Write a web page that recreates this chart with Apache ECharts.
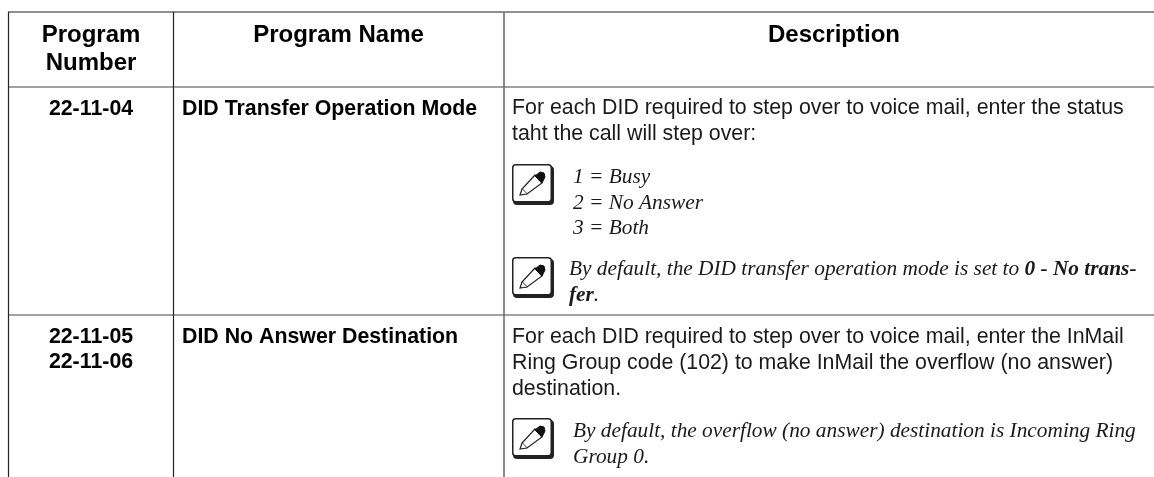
<!DOCTYPE html>
<html>
<head>
<meta charset="utf-8">
<style>html,body{margin:0;padding:0;background:#fff}#main{width:1154px;height:477px}</style>
<script src="https://cdn.jsdelivr.net/npm/echarts@6/dist/echarts.min.js"></script>
</head>
<body>
<div id="main"></div>
<script>
var headers = ['Program\nNumber', 'Program Name', 'Description'];
var programNumbers = ['22-11-04', '22-11-05\n22-11-06'];
var programNames = ['DID Transfer Operation Mode', 'DID No Answer Destination'];
var row1Text = 'For each DID required to step over to voice mail, enter the status\ntaht the call will step over:';
var row1Note1 = '1 = Busy\n2 = No Answer\n3 = Both';
var row1Note2 = 'By default, the DID transfer operation mode is set to {b|0 - No trans-}\n{b|fer}.';
var row2Text = 'For each DID required to step over to voice mail, enter the InMail\nRing Group code (102) to make InMail the overflow (no answer)\ndestination.';
var row2Note = 'By default, the overflow (no answer) destination is Incoming Ring\nGroup 0.';

var sans = '"Liberation Sans", Arial, sans-serif';
var serif = '"Liberation Serif", "Times New Roman", serif';
var ink = '#1a1a1a';

function line(x1, y1, x2, y2, w, color) {
    return {type: 'line', shape: {x1: x1, y1: y1, x2: x2, y2: y2}, style: {stroke: color || '#222', lineWidth: w || 1}, silent: true};
}
function heading(x, y, text) {
    return {type: 'text', x: x, y: y, style: {text: text, fill: '#000', font: 'bold 24px ' + sans, lineHeight: 28, align: 'center', verticalAlign: 'top'}};
}
function bold(x, y, text, align) {
    return {type: 'text', x: x, y: y, style: {text: text, fill: '#000', font: 'bold 21.33px ' + sans, lineHeight: 25, align: align || 'center', verticalAlign: 'top'}};
}
function body(x, y, text) {
    return {type: 'text', x: x, y: y, style: {text: text, fill: ink, font: '21.33px ' + sans, lineHeight: 26, align: 'left', verticalAlign: 'top'}};
}
function note(x, y, text) {
    return {type: 'text', x: x, y: y, style: {
        text: text, fill: ink, font: 'italic 21.33px ' + serif, lineHeight: 25.5, align: 'left', verticalAlign: 'top',
        rich: {b: {font: 'italic bold 21.33px ' + serif, fill: ink, lineHeight: 25.5}}
    }};
}
// pencil icon, top left corner at x,y
function pencil(x, y) {
    return {type: 'group', x: x, y: y, silent: true, children: [
        {type: 'rect', shape: {x: 1, y: 2, width: 41, height: 39, r: 4}, style: {fill: '#222'}},
        {type: 'rect', shape: {x: 0.75, y: 0.75, width: 38.5, height: 37, r: 3}, style: {fill: '#fff', stroke: '#222', lineWidth: 1.5}},
        {type: 'polygon', shape: {points: [[23, 11], [30, 19], [15, 30], [10, 25]]}, style: {fill: '#fff', stroke: '#222', lineWidth: 1.2}},
        {type: 'polygon', shape: {points: [[23, 12], [28, 8], [32, 9], [33, 13], [30, 19]]}, style: {fill: '#111', stroke: '#111', lineWidth: 1}},
        {type: 'polyline', shape: {points: [[10, 25], [8, 31], [15, 30]]}, style: {fill: '#fff', stroke: '#222', lineWidth: 1.2}}
    ]};
}

var elements = [
    line(8, 12, 1154, 12, 1.2),
    line(8, 87, 1154, 87, 1.2, '#444'),
    line(8, 315, 1154, 315, 1.2, '#444'),
    line(8.5, 12, 8.5, 477, 1.2),
    line(173.5, 12, 173.5, 477, 1.2),
    line(504, 12, 504, 477, 1.5, '#666'),
    heading(91, 21, headers[0]),
    heading(338.5, 21, headers[1]),
    heading(834, 21, headers[2]),
    bold(91, 97, programNumbers[0]),
    bold(182, 97, programNames[0], 'left'),
    bold(91, 325, programNumbers[1]),
    bold(182, 325, programNames[1], 'left'),
    body(512, 95, row1Text),
    pencil(512, 164),
    note(573, 165, row1Note1),
    pencil(512, 257),
    note(569, 257, row1Note2),
    body(512, 324, row2Text),
    pencil(512, 418),
    note(573, 419, row2Note)
];

var myChart = echarts.init(document.getElementById('main'), null, {renderer: 'canvas'});
myChart.setOption({
    animation: false,
    backgroundColor: '#fff',
    graphic: {elements: elements}
});
</script>
</body>
</html>
